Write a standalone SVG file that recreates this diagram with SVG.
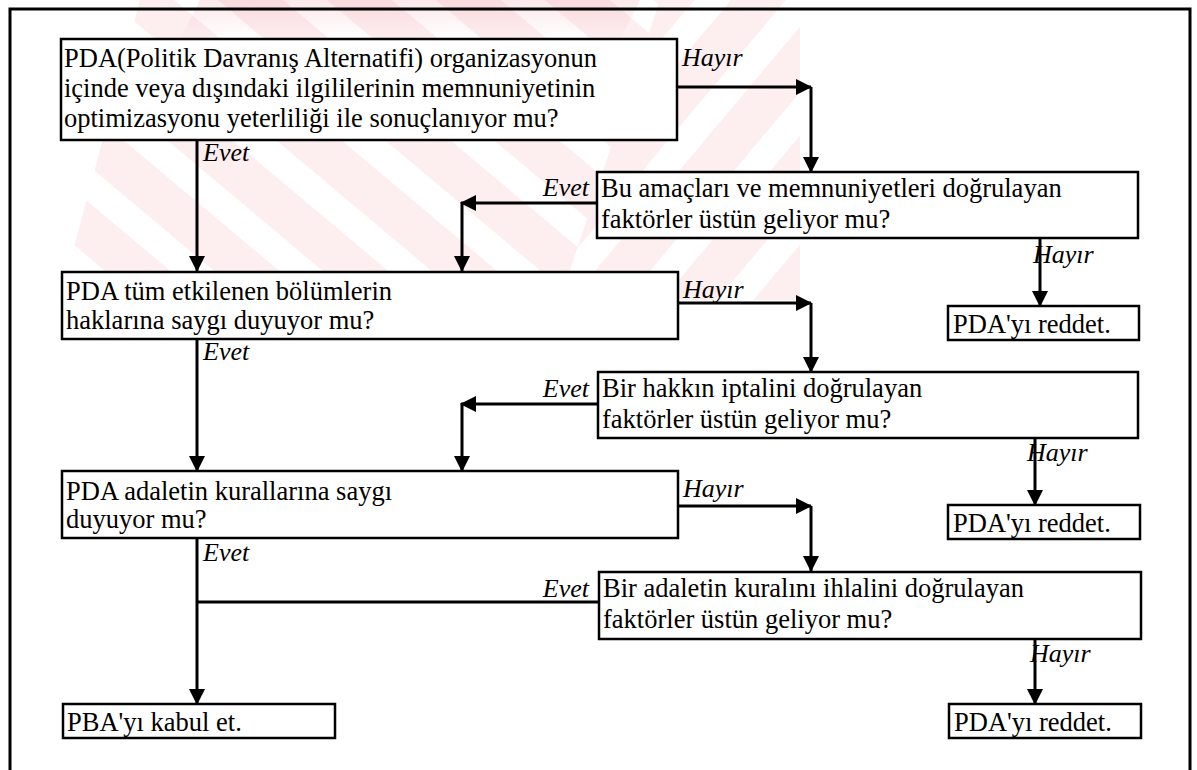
<svg xmlns="http://www.w3.org/2000/svg" width="1197" height="770" viewBox="0 0 1197 770">
<style>
  .box { fill: #ffffff; stroke: #000000; stroke-width: 2.5; }
  .t { font-size: 26.5px; fill: #000000; }
  .lbl { font-size: 26px; font-style: italic; fill: #000000; }
  .c { fill: none; stroke: #000000; stroke-width: 3; }
  .a { marker-end: url(#arr); }
  .frame { fill: none; stroke: #000000; stroke-width: 3; }
</style>
<defs>
  <marker id="arr" markerUnits="userSpaceOnUse" markerWidth="16" markerHeight="16" viewBox="0 0 16 16" refX="15" refY="8" orient="auto">
    <path d="M0,0 L16,8 L0,16 Z" fill="#000000"/>
  </marker>
  <pattern id="stripes" patternUnits="userSpaceOnUse" width="70" height="70" patternTransform="rotate(-50)">
    <rect x="0" y="0" width="42" height="70" fill="#fdeef0"/>
  </pattern>
  <pattern id="stripes2" patternUnits="userSpaceOnUse" width="70" height="70" patternTransform="rotate(40)">
    <rect x="0" y="0" width="42" height="70" fill="#fdeef0"/>
  </pattern>
  <linearGradient id="fadeTop" x1="0" y1="0" x2="0" y2="1">
    <stop offset="0" stop-color="#e9808c" stop-opacity="0.35"/>
    <stop offset="1" stop-color="#e9808c" stop-opacity="0"/>
  </linearGradient>
</defs>
<rect width="1197" height="770" fill="#ffffff"/>
<g id="watermark">
  <polygon points="140,0 660,0 560,300 60,300" fill="url(#stripes)"/>
  <polygon points="660,0 800,0 800,300 560,300" fill="url(#stripes2)"/>
  <polygon points="200,0 640,0 620,40 180,40" fill="url(#fadeTop)" opacity="0.5"/>
</g>
<path class="frame" d="M10,770 V9 H1190 V770"/>
<g id="connectors" font-family="'Liberation Serif', 'Times New Roman', 'DejaVu Serif', serif">
  <path class="c a" d="M677,87 H811"/>
  <path class="c a" d="M811,87 V172"/>
  <path class="c a" d="M197,140 V271"/>
  <path class="c a" d="M597,203 H461"/>
  <path class="c a" d="M462,202 V271"/>
  <path class="c a" d="M1040,238 V306"/>
  <path class="c a" d="M678,303 H811"/>
  <path class="c a" d="M811,303 V372"/>
  <path class="c a" d="M197,339 V471"/>
  <path class="c a" d="M598,404 H461"/>
  <path class="c a" d="M462,403 V471"/>
  <path class="c a" d="M1035,438 V505"/>
  <path class="c a" d="M678,506 H811"/>
  <path class="c a" d="M811,506 V571"/>
  <path class="c a" d="M197,538 V704"/>
  <path class="c" d="M598,602 H197"/>
  <path class="c a" d="M1035,639 V704"/>
  <text class="lbl" x="682" y="66">Hayır</text>
  <text class="lbl" x="203" y="161">Evet</text>
  <text class="lbl" x="589" y="196" text-anchor="end">Evet</text>
  <text class="lbl" x="1033" y="263">Hayır</text>
  <text class="lbl" x="683" y="298">Hayır</text>
  <text class="lbl" x="203" y="360">Evet</text>
  <text class="lbl" x="589" y="397" text-anchor="end">Evet</text>
  <text class="lbl" x="1027" y="461">Hayır</text>
  <text class="lbl" x="683" y="497">Hayır</text>
  <text class="lbl" x="203" y="561">Evet</text>
  <text class="lbl" x="589" y="597" text-anchor="end">Evet</text>
  <text class="lbl" x="1030" y="662">Hayır</text>
</g>
<g id="nodes" font-family="'Liberation Serif', 'Times New Roman', 'DejaVu Serif', serif">
<g id="q1">
  <rect class="box" x="61" y="39" width="616" height="101"/>
  <text class="t" x="64" y="67">PDA(Politik Davranış Alternatifi) organizasyonun</text>
  <text class="t" x="64" y="97">içinde veya dışındaki ilgililerinin memnuniyetinin</text>
  <text class="t" x="64" y="127">optimizasyonu yeterliliği ile sonuçlanıyor mu?</text>
</g>
<g id="q1b">
  <rect class="box" x="597" y="172" width="541" height="66"/>
  <text class="t" x="601" y="197">Bu amaçları ve memnuniyetleri doğrulayan</text>
  <text class="t" x="601" y="228">faktörler üstün geliyor mu?</text>
</g>
<g id="r1">
  <rect class="box" x="948" y="306" width="191" height="34"/>
  <text class="t" x="953" y="333">PDA'yı reddet.</text>
</g>
<g id="q2">
  <rect class="box" x="62" y="272" width="616" height="67"/>
  <text class="t" x="66" y="300">PDA tüm etkilenen bölümlerin</text>
  <text class="t" x="66" y="329">haklarına saygı duyuyor mu?</text>
</g>
<g id="q2b">
  <rect class="box" x="598" y="372" width="540" height="66"/>
  <text class="t" x="602" y="397">Bir hakkın iptalini doğrulayan</text>
  <text class="t" x="602" y="428">faktörler üstün geliyor mu?</text>
</g>
<g id="r2">
  <rect class="box" x="948" y="505" width="192" height="34"/>
  <text class="t" x="953" y="532">PDA'yı reddet.</text>
</g>
<g id="q3">
  <rect class="box" x="62" y="471" width="616" height="67"/>
  <text class="t" x="66" y="500">PDA adaletin kurallarına saygı</text>
  <text class="t" x="66" y="528">duyuyor mu?</text>
</g>
<g id="q3b">
  <rect class="box" x="599" y="572" width="542" height="67"/>
  <text class="t" x="603" y="597">Bir adaletin kuralını ihlalini doğrulayan</text>
  <text class="t" x="603" y="628">faktörler üstün geliyor mu?</text>
</g>
<g id="accept">
  <rect class="box" x="63" y="704" width="272" height="34"/>
  <text class="t" x="67" y="731">PBA'yı kabul et.</text>
</g>
<g id="r3">
  <rect class="box" x="949" y="704" width="192" height="34"/>
  <text class="t" x="954" y="731">PDA'yı reddet.</text>
</g>
</g>
</svg>
